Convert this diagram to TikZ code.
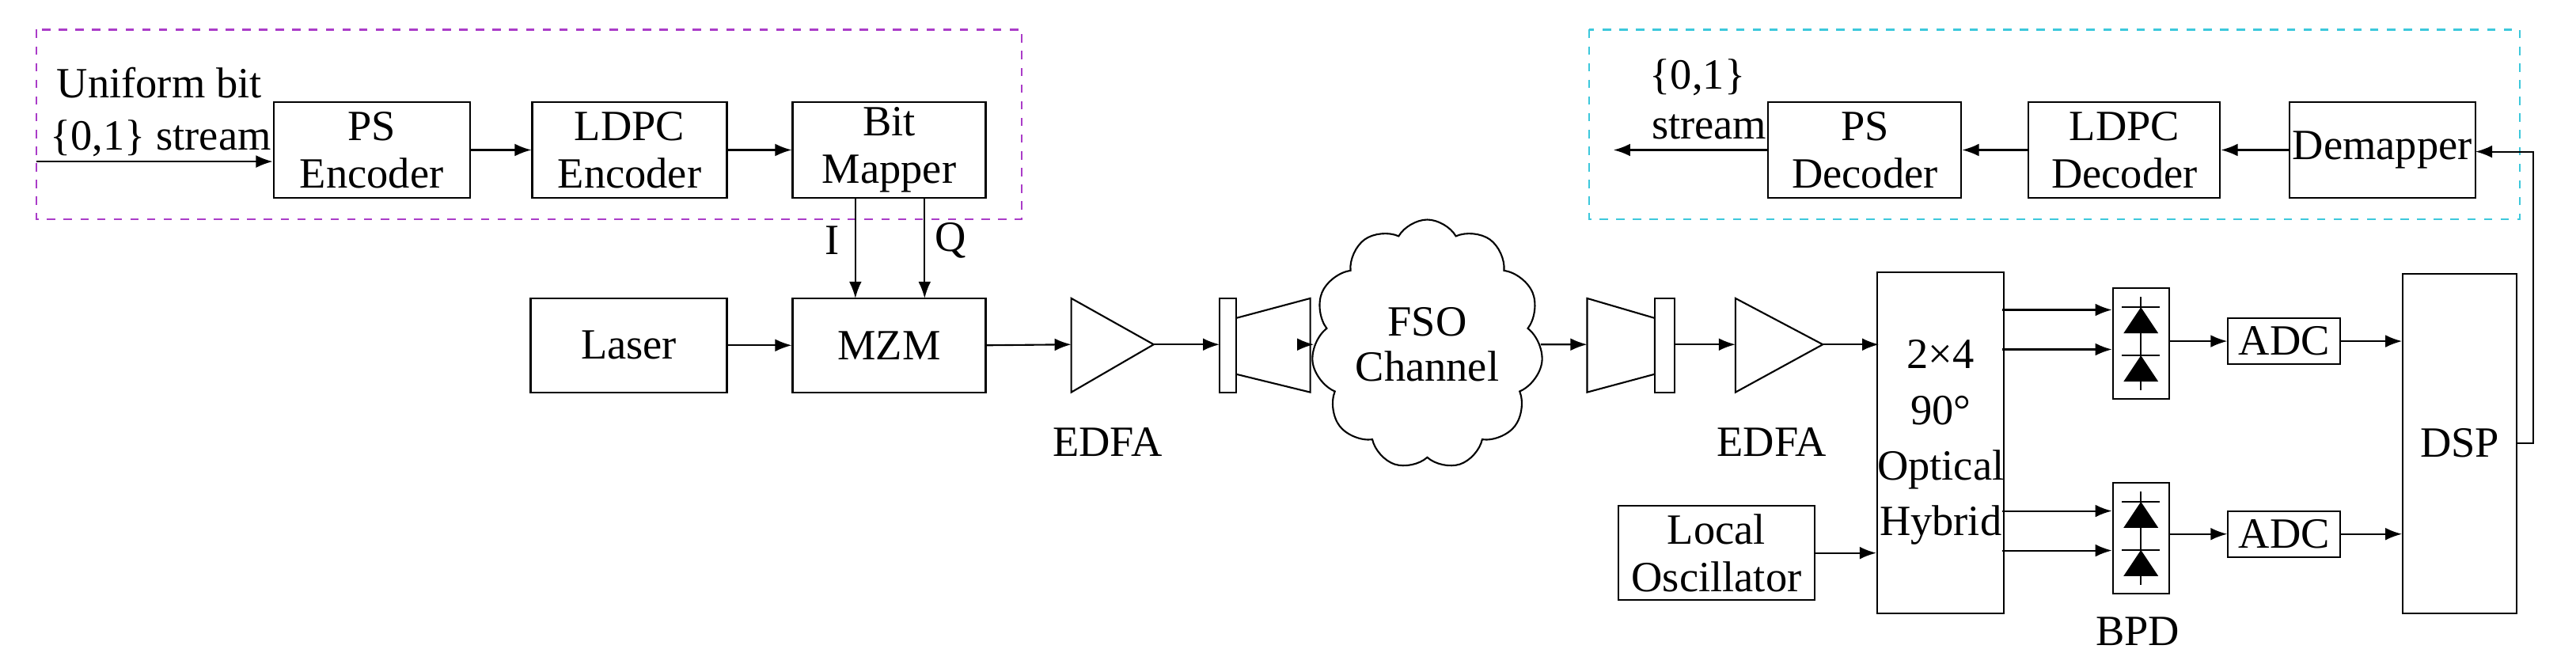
\documentclass[tikz,border=0pt]{standalone}
\usepackage{fontspec}
\setmainfont{Liberation Serif}
\newfontfamily\tnr{Liberation Serif}
\usetikzlibrary{shapes.symbols,arrows.meta}
\begin{document}
\begin{tikzpicture}[x=0.020826cm,y=-0.020826cm,
  every node/.style={font=\tnr\fontsize{15.5pt}{17pt}\selectfont},
  blk/.style={draw,inner sep=0pt,align=center},
  arr/.style={-{Latex[length=6pt,width=4.5pt]}},
  ln/.style={line width=0.6pt}]
\useasboundingbox (0,0) rectangle (1563,405);
\begin{scope}[ln]
% dashed boxes
\draw[dashed,color={rgb,255:red,170;green,60;blue,200}] (22,18) rectangle (620,133);
\draw[dashed,color={rgb,255:red,60;green,200;blue,220}] (964,18) rectangle (1529,133);
% transmitter boxes
\node[blk,minimum width=2.48cm,minimum height=1.21cm] (pse) at (225.5,91) {PS\\Encoder};
\node[blk,minimum width=2.46cm,minimum height=1.21cm] (ldpce) at (382,91) {LDPC\\Encoder};
\node[blk,minimum width=2.44cm,minimum height=1.21cm] (bm) at (539.5,91) {Bit\\Mapper};
\node[blk,minimum width=2.48cm,minimum height=1.19cm] (laser) at (381.5,209.5) {Laser};
\node[blk,minimum width=2.44cm,minimum height=1.19cm] (mzm) at (539.5,209.5) {MZM};
\coordinate (in) at (22,98);
\node[align=left,anchor=west,inner sep=0pt] (t1) at (34,50) {Uniform bit};
\node[align=left,anchor=west,inner sep=0pt] (t2) at (30,84) {\{0,1\} stream};
\draw[arr] (in) -- (in -| pse.west);
\draw[arr] (pse) -- (ldpce);
\draw[arr] (ldpce) -- (bm);
\draw[arr] (laser) -- (mzm);
\draw[arr] (519,120) -- (519,181);
\draw[arr] (561,120) -- (561,181);
\node (I) at (505,146) {I};
\node (Q) at (577,146) {Q};
% EDFA1
\draw (650,181) -- (700,209) -- (650,238) -- cycle;
\coordinate (e1in) at (650,209); \coordinate (e1out) at (700,209);
\draw[arr] (mzm.east) -- (e1in);
\node (edfa1) at (672,268) {EDFA};
% lens1
\draw (740,181) rectangle (750,238);
\draw (750,193) -- (795,181) -- (795,238) -- (750,227);
\draw[arr] (e1out) -- (740,209);
% cloud
\node[cloud,draw,cloud puffs=11,cloud puff arc=120,aspect=0.9,minimum width=1.5cm,minimum height=1.55cm,inner sep=0pt,align=center,font=\tnr\fontsize{15.5pt}{16pt}\selectfont] (fso) at (866,209) {FSO\\Channel};
\draw[arr] (795,209) -- (fso.west);
% lens2
\draw (963,181) -- (1004,193) -- (1004,227) -- (963,238) -- cycle;
\draw (1004,181) rectangle (1016,238);
\draw[arr] (fso.east) -- (963,209);
% EDFA2
\draw (1053,181) -- (1106,209) -- (1053,238) -- cycle;
\draw[arr] (1016,209) -- (1053,209);
\node (edfa2) at (1075,268) {EDFA};
% hybrid
\node[blk,minimum width=1.56cm,minimum height=4.31cm,font=\tnr\fontsize{15.5pt}{20pt}\selectfont] (hyb) at (1177.5,268.5) {2\texttimes4\\90\textdegree\\Optical\\Hybrid};
\draw[arr] (1106,209) -- (1140,209);
\node[blk,minimum width=2.48cm,minimum height=1.19cm] (lo) at (1041.5,335.5) {Local\\Oscillator};
\draw[arr] (lo) -- (lo -| hyb.west);
% BPDs
\node[blk,minimum width=0.71cm,minimum height=1.4cm] (bpd1) at (1299,208.5) {};
\node[blk,minimum width=0.71cm,minimum height=1.4cm] (bpd2) at (1299,326.5) {};
\foreach \b in {bpd1,bpd2}{
  \draw ([yshift=-0.12cm]\b.north) -- ([yshift=0.12cm]\b.south);
  \begin{scope}[shift={(\b.center)},x=1cm,y=1cm]
   \foreach \yy in {0.33,-0.28}{
     \fill (-0.22,\yy-0.2) -- (0.22,\yy-0.2) -- (0,\yy+0.13) -- cycle;
     \draw (-0.24,\yy+0.13) -- (0.24,\yy+0.13);
   }
  \end{scope}
}
\draw[arr] (1215,188) -- (1215,188 -| bpd1.west);
\draw[arr] (1215,212) -- (1215,212 -| bpd1.west);
\draw[arr] (1215,310) -- (1215,310 -| bpd2.west);
\draw[arr] (1215,334) -- (1215,334 -| bpd2.west);
\node (bpdl) at (1297,383) {BPD};
\node[blk,minimum width=1.42cm,minimum height=0.58cm] (adc1) at (1386,207) {ADC};
\node[blk,minimum width=1.42cm,minimum height=0.58cm] (adc2) at (1386,324) {ADC};
\draw[arr] (bpd1.east |- adc1) -- (adc1);
\draw[arr] (bpd2.east |- adc2) -- (adc2);
\node[blk,minimum width=1.44cm,minimum height=4.29cm] (dsp) at (1492.5,269) {DSP};
\draw[arr] (adc1) -- (adc1 -| dsp.west);
\draw[arr] (adc2) -- (adc2 -| dsp.west);
% receiver DSP chain
\node[blk,minimum width=2.35cm,minimum height=1.21cm] (dem) at (1445.5,91) {Demapper};
\node[blk,minimum width=2.42cm,minimum height=1.21cm] (ldpcd) at (1289,91) {LDPC\\Decoder};
\node[blk,minimum width=2.44cm,minimum height=1.21cm] (psd) at (1131.5,91) {PS\\Decoder};
\coordinate (fb) at (1537,269);
\draw[arr] (dsp.east |- fb) -- (fb) -- (1537,92) -- (1502,92);
\draw[arr] (dem) -- (ldpcd);
\draw[arr] (ldpcd) -- (psd);
\coordinate (out) at (979,91);
\draw[arr] (psd) -- (out);
\node (o1) at (1030,47) {\{0,1\}};
\node (o2) at (1037,77) {stream};
\end{scope}
\end{tikzpicture}
\end{document}
